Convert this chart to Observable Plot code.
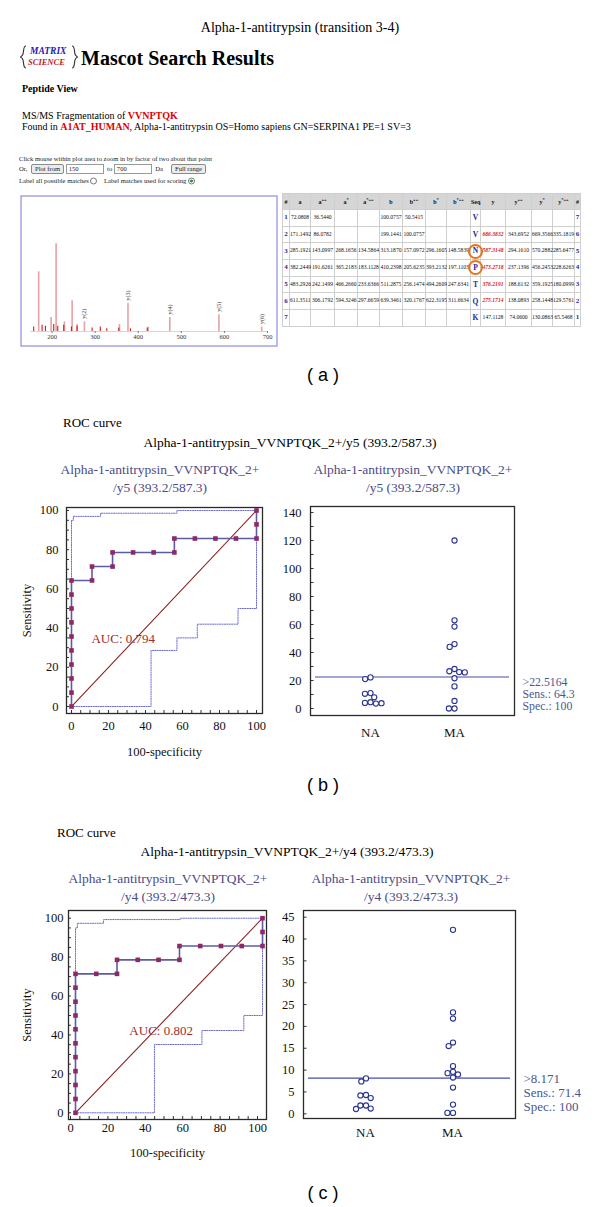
<!DOCTYPE html>
<html><head><meta charset="utf-8">
<script src="https://cdn.jsdelivr.net/npm/d3@7"></script>
<script src="https://cdn.jsdelivr.net/npm/@observablehq/plot@0.6"></script>
<style>
html,body{margin:0;padding:0;background:#fff}
body{position:relative;width:600px;height:1207px;overflow:hidden;font-family:"Liberation Serif",serif}
.abs{position:absolute;white-space:nowrap;line-height:1}
table.ions{border-collapse:collapse;table-layout:fixed;font-family:"Liberation Serif",serif;font-size:5.6px;background:#fff;border:1px solid #aaa}
table.ions td{border:1px solid #cfcfcf;padding:0;text-align:center;white-space:nowrap;position:relative;overflow:visible;color:#111}
table.ions tr.hd td{background:#d6d6d6;font-weight:bold;font-size:6px}
table.ions sup{font-size:4.5px;vertical-align:3px}
.btn{display:inline-block;border:1px solid #8a8a8a;border-radius:2px;background:#ececec;padding:0 3px;height:8px;line-height:8px;vertical-align:middle}
.inp{display:inline-block;border:1px solid #9a9a9a;background:#fff;padding:0 2px;height:8px;line-height:8px;vertical-align:middle;text-align:left}
</style></head><body>
<script>
// ================= DATA =================
const figureTitle = "Alpha-1-antitrypsin (transition 3-4)";
const peptide = "VVNPTQK";
const protein = "A1AT_HUMAN";
const proteinDesc = ", Alpha-1-antitrypsin OS=Homo sapiens GN=SERPINA1 PE=1 SV=3";
const plotFrom = "150", plotTo = "700";

// MS/MS spectrum (m/z, relative intensity)
const specMz  = [169.0, 209.4, 197.8, 228.7, 246.6, 258.2, 275.17, 356.5, 376.22, 423.2, 473.27, 587.31, 686.38];
const specInt = [68, 100, 16, 11, 35, 8, 11, 8, 32, 5, 16, 19, 5];
const smallMz  = [157.4, 176.9, 184.6, 203.9, 213.2, 227.1, 245.0, 258.0, 293.0, 312.0, 327.0, 354.8, 382.0, 420.9];
const smallInt = [5, 7, 6, 8, 6, 7, 5, 6, 4, 5, 3, 4, 3, 4];
const ionLabels = ["y(2)", "y(3)", "y(4)", "y(5)", "y(6)"];
const ionMz = [275.17, 376.22, 473.27, 587.31, 686.38];
const specTicks = [200, 300, 400, 500, 600, 700];

// fragment ion table
const tableHeader = ["#", "a", "a++", "a*", "a*++", "b", "b++", "b*", "b*++", "Seq.", "y", "y++", "y*", "y*++", "#"];
const tableRows = [
  ["1","72.0808","36.5440","","","100.0757","50.5415","","","V","","","","","7"],
  ["2","171.1492","86.0782","","","199.1441","100.0757","","","V","686.3832","343.6952","669.3566","335.1819","6"],
  ["3","285.1921","143.0997","268.1656","134.5864","313.1870","157.0972","296.1605","148.5839","N","587.3148","294.1610","570.2882","285.6477","5"],
  ["4","382.2449","191.6261","365.2183","183.1128","410.2398","205.6235","393.2132","197.1103","P","473.2718","237.1396","456.2453","228.6263","4"],
  ["5","483.2926","242.1499","466.2660","233.6366","511.2875","256.1474","494.2609","247.6341","T","376.2191","188.6132","359.1925","180.0999","3"],
  ["6","611.3511","306.1792","594.3246","297.6659","639.3461","320.1767","622.3195","311.6634","Q","275.1714","138.0893","258.1448","129.5761","2"],
  ["7","","","","","","","","","K","147.1128","74.0600","130.0863","65.5468","1"]
];
const yMatched = [false, true, true, true, true, true, false];
const circledResidues = ["N", "P"];

// panel (b): y5 transition
const transB = "Alpha-1-antitrypsin_VVNPTQK_2+/y5 (393.2/587.3)";
const rocB_fpr  = [0,0,0,0,0,0,0,0,0,0,11.1,11.1,22.2,22.2,33.3,44.4,55.6,55.6,66.7,77.8,88.9,100,100,100];
const rocB_sens = [0,7.1,14.3,21.4,28.6,35.7,42.9,50,57.1,64.3,64.3,71.4,71.4,78.6,78.6,78.6,78.6,85.7,85.7,85.7,85.7,85.7,92.9,100];
const ciB_up_x = [0,0,1,1,15.7,15.7,57,57,100];
const ciB_up_y = [0,95,95,97,97,98.6,98.6,100,100];
const ciB_lo_x = [0,43,43,57,57,68,68,90,90,100,100];
const ciB_lo_y = [0,0,28.6,28.6,35,35,42,42,50,50,100];
const aucB = "0.794";
const naB = [22.2, 21.0, 11.0, 10.5, 8.0, 4.5, 4.0, 3.5, 3.8];
const maB = [120, 63, 58.5, 46, 44, 28.2, 26.6, 26.0, 25.8, 21.6, 15.8, 5.4, 0, 0];
const cutB = {value: 22.5164, label: "22.5164", sens: "64.3", spec: "100"};

// panel (c): y4 transition
const transC = "Alpha-1-antitrypsin_VVNPTQK_2+/y4 (393.2/473.3)";
const rocC_fpr  = [0,0,0,0,0,0,0,0,0,0,0,11.1,22.2,22.2,33.3,44.4,55.6,55.6,66.7,77.8,88.9,100,100,100];
const rocC_sens = [0,7.1,14.3,21.4,28.6,35.7,42.9,50,57.1,64.3,71.4,71.4,71.4,78.6,78.6,78.6,78.6,85.7,85.7,85.7,85.7,85.7,92.9,100];
const ciC_up_x = [0,0,1,1,15,15,56,56,100];
const ciC_up_y = [0,95,95,97.4,97.4,99.3,99.3,100,100];
const ciC_lo_x = [0,42.2,42.2,67.6,67.6,90,90,100,100];
const ciC_lo_y = [0,0,35.1,35.1,42.3,42.3,50,50,100];
const aucC = "0.802";
const naC = [8.1, 7.4, 4.3, 4.2, 3.6, 1.9, 1.9, 1.2, 1.1];
const maC = [42.1, 23.2, 21.8, 16.3, 15.5, 10.9, 9.6, 9.3, 9.0, 8.3, 6.0, 2.1, 0.2, 0.2];
const cutC = {value: 8.171, label: "8.171", sens: "71.4", spec: "100"};

const groups = ["NA", "MA"];
const diagonal = [{x: 0, y: 0}, {x: 100, y: 100}];
const panelLabels = ["( a )", "( b )", "( c )"];

// ================= RENDER =================
const SERIF = '"Liberation Serif","DejaVu Serif",serif';
const SANS = '"Liberation Sans","DejaVu Sans",sans-serif';
const BLUE = "#4b4b88";
const root = document.body;
const zip = (xs, ys) => xs.map((x, i) => ({x, y: ys[i]}));

function txt(html, x, y, o = {}) {
  const d = document.createElement("div");
  d.className = "abs";
  d.innerHTML = html;
  Object.assign(d.style, {
    left: x + "px", top: y + "px", fontSize: (o.size || 12) + "px", color: o.color || "#000",
    fontFamily: o.family || SERIF, fontWeight: o.weight || "normal", fontStyle: o.style || "normal"
  });
  const tx = o.anchor === "middle" ? "-50%" : o.anchor === "end" ? "-100%" : "0";
  d.style.transform = `translate(${tx},-50%)`;
  root.appendChild(d);
  return d;
}
function put(node, x, y) {
  const w = document.createElement("div");
  w.className = "abs";
  w.style.left = x + "px"; w.style.top = y + "px";
  w.appendChild(node);
  root.appendChild(w);
  return w;
}
const red = s => `<b style="color:#e00000">${s}</b>`;

// ---------- panel (a) header ----------
txt(figureTitle, 300, 28, {size: 14, anchor: "middle"});
const logo = document.createElement("div");
logo.className = "abs";
Object.assign(logo.style, {left: "20px", top: "45px", width: "58px", height: "24px"});
logo.innerHTML =
  `<svg class="abs" style="left:0;top:0" width="58" height="24" viewBox="0 0 58 24">
     <path d="M6,1 C3,1 4,6 3,9 C2.5,11 1,11.5 0.5,12 C1,12.5 2.5,13 3,15 C4,18 3,23 6,23" fill="none" stroke="#333" stroke-width="1.1"/>
     <path d="M52,1 C55,1 54,6 55,9 C55.5,11 57,11.5 57.5,12 C57,12.5 55.5,13 55,15 C54,18 55,23 52,23" fill="none" stroke="#333" stroke-width="1.1"/>
   </svg>` +
  `<div class="abs" style="left:10px;top:2px;font-size:9.5px;color:#1c1cb8;font-weight:bold;font-style:italic;font-family:${SERIF}">MATRIX</div>` +
  `<div class="abs" style="left:8px;top:13px;font-size:8.5px;color:#c41a1a;font-weight:bold;font-style:italic;font-family:${SERIF}">SCIENCE</div>`;
root.appendChild(logo);
txt("Mascot Search Results", 81, 58, {size: 20, weight: "bold"});
txt("Peptide View", 22, 89, {size: 10, weight: "bold"});
txt("MS/MS Fragmentation of " + red(peptide), 22, 116, {size: 10});
txt("Found in " + red(protein) + proteinDesc, 22, 127, {size: 10});
txt("Click mouse within plot area to zoom in by factor of two about that point", 19, 159, {size: 6.6, color: "#222"});
txt(`Or, <span class="btn" style="margin-left:2px">Plot from</span> <span class="inp" style="width:32px">${plotFrom}</span> &nbsp;to <span class="inp" style="width:32px">${plotTo}</span> &nbsp;Da &nbsp;&nbsp;&nbsp;&nbsp;<span class="btn">Full range</span>`, 19, 169, {size: 6.6, color: "#222"});
txt(`Label all possible matches <span style="display:inline-block;width:5px;height:5px;border:1px solid #777;border-radius:50%;vertical-align:middle"></span> &nbsp;&nbsp;&nbsp;Label matches used for scoring <span style="display:inline-block;width:5px;height:5px;border:1px solid #777;border-radius:50%;vertical-align:middle;background:radial-gradient(#3a9a3a 40%,#fff 45%)"></span>`, 19, 181, {size: 6.6, color: "#222"});

// ---------- spectrum ----------
const specPeaks = specMz.map((mz, i) => ({mz, int: specInt[i]}));
const smallPeaks = smallMz.map((mz, i) => ({mz, int: smallInt[i]}));
const ions = ionMz.map((mz, i) => ({mz, label: ionLabels[i], int: specInt[specMz.indexOf(mz)]}));
put(Plot.plot({
  width: 257, height: 151, marginLeft: 10, marginRight: 10, marginTop: 0, marginBottom: 15,
  x: {domain: [150, 700]}, y: {domain: [0, 155], axis: null},
  style: {background: "transparent", fontFamily: SERIF, fontSize: "6.5px", overflow: "visible", color: "#333"},
  marks: [
    Plot.frame({stroke: "#8d8de0", strokeWidth: 1.2, insetLeft: -9.5, insetRight: -9.5, insetBottom: -14.5, insetTop: 0.5}),
    Plot.ruleY([0], {stroke: "#bbb", strokeWidth: 0.6}),
    Plot.ruleX(specPeaks, {x: "mz", y1: 0, y2: "int", stroke: "#e6a2a2", strokeWidth: 1.6}),
    Plot.ruleX(smallPeaks, {x: "mz", y1: 0, y2: "int", stroke: "#c81e1e", strokeWidth: 1.1}),
    Plot.text(ions, {x: "mz", y: "int", text: "label", rotate: -90, textAnchor: "start", dy: -3, fontSize: 6, fill: "#333"}),
    Plot.axisX({ticks: specTicks, tickSize: 2, tickPadding: 1, label: null, stroke: "#777"})
  ]
}), 20, 195);

// ---------- ion table ----------
const colW = [7, 21, 24, 23, 22, 23, 23, 21, 24, 10, 25, 26, 21, 22, 6];
const tbl = document.createElement("table");
tbl.className = "ions";
tbl.style.width = d3.sum(colW) + "px";
let html = "<colgroup>" + colW.map(w => `<col style="width:${w}px">`).join("") + "</colgroup>";
const hdr = h => {
  const m = h.match(/^([a-z#]+|Seq\.)(.*)$/);
  return m && m[2] ? `${m[1]}<sup>${m[2]}</sup>` : h;
};
html += `<tr class="hd" style="height:16px">` + tableHeader.map(h => `<td>${hdr(h)}</td>`).join("") + "</tr>";
tableRows.forEach((r, ri) => {
  html += `<tr style="height:16.7px">` + r.map((c, ci) => {
    let st = "";
    let inner = c;
    if (ci === 0 || ci === 14) st = "color:#2424a8;font-weight:bold;font-size:7px";
    if (ci === 9) {
      st = "color:#2424a8;font-weight:bold;font-size:7.5px";
      if (circledResidues.includes(c)) inner = `<span style="position:absolute;left:50%;top:50%;width:11px;height:11px;margin:-7.5px 0 0 -7.5px;border:2.2px solid #e2781e;border-radius:50%"></span>${c}`;
    }
    if (ci === 10 && yMatched[ri]) st = "color:#dd1c1c;font-weight:bold;font-style:italic";
    return `<td style="${st}">${inner}</td>`;
  }).join("") + "</tr>";
});
tbl.innerHTML = html;
put(tbl, 282, 193);

txt(panelLabels[0], 323, 375, {size: 18, family: SANS, anchor: "middle"});

// ---------- ROC & dot plots ----------
const baseStyle = {background: "transparent", fontFamily: SERIF, fontSize: "12.5px", color: "#111", overflow: "visible"};

function rocPlot(o) {
  const roc = zip(o.fpr, o.sens);
  return Plot.plot({
    width: o.w, height: o.h, marginLeft: o.ml, marginRight: o.mr, marginTop: o.mt, marginBottom: o.mb,
    x: {domain: o.xd}, y: {domain: o.yd},
    style: baseStyle,
    marks: [
      Plot.axisX({ticks: d3.range(0, 101, 5), tickSize: 3, dy: -3, tickFormat: () => "", label: null, stroke: "#333"}),
      Plot.axisY({ticks: d3.range(0, 101, 5), tickSize: 3, dx: 3, tickFormat: () => "", label: null, stroke: "#333"}),
      Plot.axisX({ticks: d3.range(0, 101, 20), tickSize: 0, tickPadding: o.xpad, label: "100-specificity", labelAnchor: "center", labelOffset: o.xlo, labelArrow: false}),
      Plot.axisY({ticks: d3.range(0, 101, 20), tickSize: 0, tickPadding: o.ypad, label: "Sensitivity", labelAnchor: "center", labelOffset: o.ylo, labelArrow: false}),
      Plot.line(o.lo, {x: "x", y: "y", stroke: "#6d6dd6", strokeWidth: 1, strokeDasharray: "1.2,1.2", dx: o.dx}),
      Plot.line(o.up, {x: "x", y: "y", stroke: "#6d6dd6", strokeWidth: 1, strokeDasharray: "1.2,1.2", dx: o.dx}),
      Plot.line(diagonal, {x: "x", y: "y", stroke: "#8b2222", strokeWidth: 1.1, dx: o.dx}),
      Plot.line(roc, {x: "x", y: "y", stroke: "#5b5ba8", strokeWidth: 1.6, dx: o.dx}),
      Plot.dot(roc, {x: "x", y: "y", symbol: "square", r: 2.6, fill: "#8e2a62", dx: o.dx}),
      Plot.text([o.auc], {x: () => o.aucX, y: () => o.aucY, text: d => "AUC: " + d, textAnchor: "start", fill: "#a52a2a", fontSize: 13, dx: o.dx}),
      Plot.frame({stroke: "#2a2a2a", strokeWidth: 1.3})
    ]
  });
}

function dotPlot(o) {
  const dotStyle = {r: 2.6, stroke: "#2a3592", fill: "white", strokeWidth: 1.1};
  return Plot.plot({
    width: o.w, height: o.h, marginLeft: o.ml, marginRight: o.mr, marginTop: o.mt, marginBottom: o.mb,
    x: {type: "point", domain: groups, range: o.xr, padding: 0}, y: {domain: o.yd},
    style: baseStyle,
    marks: [
      Plot.axisY({ticks: o.minor, tickSize: 3.5, dx: 3.5, tickFormat: () => "", label: null, stroke: "#333"}),
      Plot.axisY({ticks: o.major, tickSize: 0, tickPadding: o.ypad, label: null}),
      Plot.axisX({tickSize: 0, tickPadding: o.xpad, label: null, fontSize: 13}),
      Plot.ruleY([o.cut.value], {stroke: "#4a4aa8", strokeWidth: 1.2, insetLeft: 5, insetRight: 5}),
      Plot.dot(o.na, Plot.dodgeX({anchor: "middle", padding: 0.4}, {y: d => d, dx: -o.off, ...dotStyle})),
      Plot.dot(o.ma, Plot.dodgeX({anchor: "middle", padding: 0.4}, {y: d => d, dx: o.off, ...dotStyle})),
      Plot.text([o.cut], {y: d => d.value, frameAnchor: "right", dx: 8, dy: o.tdy, textAnchor: "start", lineAnchor: "top", lineHeight: o.lh,
        text: d => `>${d.label}\nSens.: ${d.sens}\nSpec.: ${d.spec}`, fill: "#4a5890", fontSize: o.tfs}),
      Plot.frame({stroke: "#2a2a2a", strokeWidth: 1.3})
    ]
  });
}

function titles(t, y0, roc, centerX, leftX, rightX, ty) {
  const [l1, l2] = [t.slice(0, t.indexOf("/")), t.slice(t.indexOf("/"))];
  txt("ROC curve", roc, y0, {size: 13});
  txt(t, centerX, ty, {size: 13.5, anchor: "middle"});
  [leftX, rightX].forEach(cx => {
    txt(l1, cx, ty + 27, {size: 13.5, anchor: "middle", color: BLUE});
    txt(l2, cx, ty + 45, {size: 13.5, anchor: "middle", color: BLUE});
  });
}

// panel (b)
titles(transB, 422, 63, 290, 160, 413, 443);
put(rocPlot({
  w: 280, h: 265, ml: 66, mr: 18, mt: 12, mb: 47,
  xd: [-2.70, 103.24], yd: [-3.57, 101.53], xpad: 8, ypad: 8, xlo: 42, ylo: 44, dx: 0,
  fpr: rocB_fpr, sens: rocB_sens, up: zip(ciB_up_x, ciB_up_y), lo: zip(ciB_lo_x, ciB_lo_y),
  auc: aucB, aucX: 10.8, aucY: 34.7
}), 0, 495);
put(dotPlot({
  w: 320, h: 250, ml: 30, mr: 86, mt: 11, mb: 30, xr: [90, 174], off: 42,
  yd: [-5, 144.3], major: d3.range(0, 141, 20), minor: d3.range(0, 141, 10), ypad: 9, xpad: 12,
  na: naB, ma: maB, cut: cutB, tdy: 1, lh: 1.0, tfs: 11.8
}), 280, 495);
txt(panelLabels[1], 323, 785, {size: 18, family: SANS, anchor: "middle"});

// panel (c)
titles(transC, 832, 57, 287, 168, 411, 852);
put(rocPlot({
  w: 280, h: 262, ml: 68, mr: 14, mt: 12, mb: 41,
  xd: [-1.07, 104.8], yd: [-3.44, 103.96], xpad: 4, ypad: 5, xlo: 37, ylo: 46, dx: 5,
  fpr: rocC_fpr, sens: rocC_sens, up: zip(ciC_up_x, ciC_up_y), lo: zip(ciC_lo_x, ciC_lo_y),
  auc: aucC, aucX: 28.8, aucY: 42.3
}), 0, 898);
put(dotPlot({
  w: 320, h: 247, ml: 23, mr: 85, mt: 12, mb: 27, xr: [85, 172], off: 43.5,
  yd: [-1.08, 46.53], major: d3.range(0, 46, 5), minor: d3.range(0, 46, 5), ypad: 9, xpad: 9,
  na: naC, ma: maC, cut: cutC, tdy: -5, lh: 1.08, tfs: 13
}), 280, 898);
txt(panelLabels[2], 323, 1193, {size: 18, family: SANS, anchor: "middle"});
</script>
</body></html>
